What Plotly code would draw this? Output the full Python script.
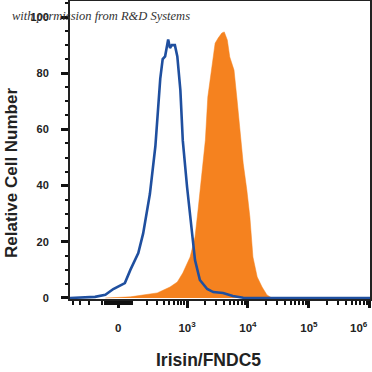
import numpy as np
import plotly.graph_objects as go

# ---- data (display units: logicle position, 10^3 -> 3, 10^4 -> 4 ...) ----
control_x = [1.08, 1.49, 1.66, 1.79, 1.98, 2.07, 2.20, 2.28, 2.39, 2.48, 2.56, 2.60, 2.64,
             2.69, 2.72, 2.75, 2.80, 2.84, 2.89, 2.93, 3.00, 3.08, 3.13, 3.21, 3.33, 3.43,
             3.59, 3.75, 3.92, 6.00]
control_y = [0.0, 0.4, 1.1, 3.2, 5.3, 10.0, 16.0, 23.0, 37.0, 54.0, 78.0, 85.0, 86.0,
             92.0, 89.0, 90.0, 90.0, 86.0, 74.0, 56.0, 39.5, 24.0, 13.5, 6.4, 3.2, 2.1,
             1.8, 0.7, 0.1, 0.0]

stain_x = [1.66, 2.07, 2.51, 2.72, 2.84, 2.93, 3.05, 3.13, 3.18, 3.25, 3.30, 3.34, 3.41,
           3.46, 3.51, 3.57, 3.61, 3.66, 3.70, 3.75, 3.77, 3.82, 3.87, 3.92, 3.98, 4.03,
           4.08, 4.15, 4.23, 4.31, 4.39]
stain_y = [0.0, 0.4, 1.8, 3.9, 5.7, 8.9, 14.6, 21.7, 31.3, 45.6, 56.2, 71.5, 83.6,
           90.7, 92.5, 94.3, 94.7, 91.8, 85.8, 82.2, 81.1, 70.5, 59.8, 48.0, 38.4, 28.8,
           14.6, 7.5, 3.9, 1.1, 0.0]

major_vals = [0, 1e3, 1e4, 1e5, 1e6]
major_text = ["0", "10<sup>3</sup>", "10<sup>4</sup>", "10<sup>5</sup>", ""]
last_label = "10<sup>6</sup>"
minor_vals = ([-400, -300, -200, -100] + [v for v in range(-80, 90, 10) if v != 0]
              + list(range(200, 1000, 100)) + list(range(2000, 10000, 1000))
              + list(range(20000, 100000, 10000)) + list(range(200000, 1000000, 100000)))
y_ticks = [0, 20, 40, 60, 80, 100]

C = 74.7
def pos(v):
    v = np.asarray(v, dtype=float)
    return 3 + (np.arcsinh(v / (2 * C)) - np.arcsinh(1000 / (2 * C))) / np.log(10)

fig = go.Figure()
fig.add_trace(go.Scatter(x=stain_x, y=stain_y, mode="lines", fill="tozeroy",
                         line=dict(color="#F5821F", width=0.5), fillcolor="#F5821F",
                         hoverinfo="skip"))
fig.add_trace(go.Scatter(x=control_x, y=control_y, mode="lines",
                         line=dict(color="#1F4F9F", width=2.6), hoverinfo="skip"))

W, H, L, R, T, B = 372, 372, 70, 2, 1, 73
fig.update_layout(
    width=W, height=H, showlegend=False,
    margin=dict(l=L, r=R, t=T, b=B, autoexpand=False),
    plot_bgcolor="white", paper_bgcolor="white",
    font=dict(family="Liberation Sans, Arial", color="#222"),
)
fig.update_xaxes(
    range=[1.08, 6.0], showgrid=False, zeroline=False, automargin=False,
    showline=True, linecolor="#222", linewidth=2, mirror=True,
    tickmode="array", tickvals=pos(major_vals).tolist(), ticktext=major_text,
    ticks="outside", ticklen=7, tickwidth=3, tickcolor="#111",
    ticklabelstandoff=10,
    tickfont=dict(size=11.5, weight="bold"),
    minor=dict(tickmode="array", tickvals=pos(minor_vals).tolist(), ticks="outside",
               ticklen=4, tickwidth=1.5, tickcolor="#111"),
)
fig.update_yaxes(
    range=[-0.36, 105.7], showgrid=False, zeroline=False, automargin=False,
    showline=True, linecolor="#222", linewidth=2, mirror=True,
    tickmode="array", tickvals=y_ticks, ticks="outside", ticklen=7, tickwidth=3,
    tickcolor="#111", ticklabelstandoff=10,
    tickfont=dict(size=11, weight="bold"),
    minor=dict(dtick=5, ticks="outside", ticklen=3, tickwidth=1.5, tickcolor="#111"),
)

pw, ph = W - L - R, H - T - B
def px2paper(xp, yp):
    return (xp - L) / pw, (H - B - yp) / ph

# last x tick label, kept inside the figure like the reference
fig.add_annotation(text="<b>" + last_label + "</b>", x=6.0, y=0, xref="x", yref="paper",
                   xanchor="right", yanchor="top", yshift=-19, showarrow=False,
                   font=dict(size=11.5, color="#222"))
# axis titles
tx, ty = px2paper(208, 360)
fig.add_annotation(text="<b>Irisin/FNDC5</b>", x=tx, y=ty, xref="paper", yref="paper",
                   xanchor="center", yanchor="middle",
                   showarrow=False, font=dict(size=17.5, color="#222"))
tx, ty = px2paper(11, 173)
fig.add_annotation(text="<b>Relative Cell Number</b>", x=tx, y=ty, xref="paper", yref="paper",
                   xanchor="center", yanchor="middle",
                   showarrow=False, textangle=-90, font=dict(size=17, color="#222"))
tx, ty = px2paper(10, 16)
fig.add_annotation(text="<i>with permission from R&amp;D Systems</i>", x=tx, y=ty,
                   xref="paper", yref="paper", xanchor="left", yanchor="middle",
                   showarrow=False,
                   font=dict(family="Liberation Serif", size=12.5, color="#333"))

fig.write_html("out.html", config={"displayModeBar": False},
               post_script="document.body.style.margin='0';")
